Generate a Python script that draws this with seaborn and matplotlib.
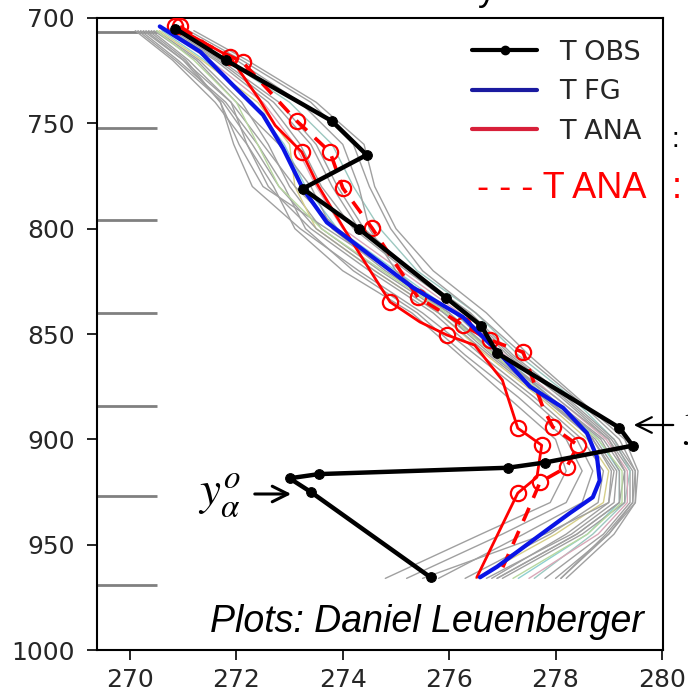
import matplotlib
matplotlib.use("Agg")
import matplotlib.pyplot as plt
import seaborn as sns
import pandas as pd
import numpy as np

# ---------------- data ----------------
obs_p = [705, 720, 749, 765, 781, 800, 833, 846, 859, 894.5, 903, 911, 913.5, 916.5, 918.5, 925, 965.5]
obs_T = [270.85, 271.8, 273.8, 274.45, 273.25, 274.3, 275.95, 276.6, 276.9, 279.2, 279.45, 277.8, 277.1, 273.55, 273.0, 273.4, 275.65]

fg_p = [704, 716, 732, 746, 762, 781, 797, 810, 828, 842, 858, 875, 885, 897, 908.5, 919.5, 927.5, 935, 946.5, 960.5, 965.5]
fg_T = [270.56, 271.32, 271.94, 272.5, 272.88, 273.25, 273.7, 274.38, 275.32, 276.26, 276.9, 277.52, 278.14, 278.59, 278.78, 278.83, 278.7, 278.27, 277.65, 276.9, 276.58]

ana_p = [704, 718.5, 739, 751, 763.6, 779.3, 800.7, 819.7, 834.8, 844.3, 850.5, 855.3, 871.9, 894.7, 902.8, 918, 925.5, 965.5]
ana_T = [270.85, 271.88, 272.44, 272.73, 273.23, 273.53, 274.04, 274.51, 274.89, 275.45, 275.96, 276.48, 277.0, 277.29, 277.74, 277.65, 277.29, 276.52]
ana_circles = [0, 1, 4, 8, 10, 13, 14, 16]

ana2_p = [704, 712.8, 721, 749, 763.6, 780.7, 799.7, 832.5, 845.8, 852.9, 858.6, 884.7, 894.2, 902.8, 913.2, 920.3, 935, 964]
ana2_T = [270.94, 271.45, 272.12, 273.14, 273.76, 274.0, 274.55, 275.41, 276.26, 276.77, 277.39, 277.76, 277.95, 278.42, 278.21, 277.71, 277.46, 276.95]
ana2_circles = [0, 2, 3, 4, 5, 6, 7, 8, 9, 10, 12, 13, 14, 15]

ens_p = [706, 720, 740, 760, 780, 800, 820, 840, 860, 880, 900, 915, 930, 945, 966]
ens_members = [
    [270.3, 271.0, 271.7, 271.95, 272.3, 273.2, 274.3, 275.5, 276.5, 277.5, 278.4, 278.7, 278.5, 277.4, 275.8],
    [270.4, 271.1, 271.9, 272.2, 272.6, 273.4, 274.5, 275.7, 276.6, 277.6, 278.5, 278.9, 278.8, 277.9, 276.3],
    [270.5, 271.3, 272.1, 272.6, 273.0, 273.6, 274.7, 275.9, 276.8, 277.8, 278.7, 279.1, 279.0, 278.2, 276.8],
    [270.6, 271.4, 272.3, 272.9, 273.3, 273.9, 275.0, 276.1, 277.0, 277.9, 278.8, 279.2, 279.2, 278.6, 277.3],
    [270.7, 271.6, 272.6, 273.2, 273.6, 274.2, 275.2, 276.3, 277.1, 278.1, 279.0, 279.4, 279.4, 278.9, 277.8],
    [271.2, 272.2, 273.5, 274.4, 274.6, 275.0, 275.7, 276.7, 277.5, 278.4, 279.3, 279.55, 279.5, 279.1, 278.2],
    [270.9, 271.8, 273.0, 273.8, 274.2, 274.7, 275.4, 276.5, 277.3, 278.3, 279.1, 279.4, 279.3, 278.7, 277.6],
    [270.2, 270.9, 271.8, 272.4, 272.9, 273.3, 274.2, 275.4, 276.3, 277.3, 278.2, 278.5, 278.2, 277.0, 275.2],
    [270.1, 270.8, 271.6, 272.2, 272.7, 273.1, 274.0, 275.3, 276.2, 277.1, 278.0, 278.2, 277.9, 276.6, 274.8],
    [270.45, 271.25, 272.0, 272.8, 273.4, 273.8, 274.8, 276.0, 276.9, 277.9, 278.9, 279.3, 279.3, 278.5, 277.0],
    [270.55, 271.35, 272.4, 273.0, 273.1, 273.5, 274.6, 275.8, 276.7, 277.7, 278.6, 279.0, 278.9, 278.0, 276.5],
    [270.8, 271.7, 272.8, 273.5, 273.9, 274.4, 275.3, 276.4, 277.2, 278.2, 279.1, 279.5, 279.5, 279.0, 278.0],
    [270.35, 271.05, 271.7, 272.05, 272.5, 273.7, 274.9, 276.0, 276.85, 277.8, 278.75, 279.15, 279.1, 278.3, 276.7],
    [270.65, 271.5, 272.5, 273.1, 273.5, 274.0, 275.1, 276.2, 277.05, 278.0, 278.95, 279.35, 279.35, 278.8, 277.5],
    [271.0, 272.0, 273.2, 274.0, 274.3, 274.5, 275.0, 275.9, 276.9, 278.0, 279.0, 279.3, 279.2, 278.4, 276.9],
    [270.25, 271.0, 271.9, 272.5, 273.1, 273.9, 274.9, 276.1, 276.95, 277.9, 278.85, 279.2, 279.2, 278.4, 276.9],
    [270.15, 270.85, 271.75, 272.3, 272.8, 273.5, 274.6, 275.8, 276.75, 277.75, 278.7, 279.05, 279.0, 277.8, 275.5],
    [270.75, 271.65, 272.7, 273.4, 273.8, 274.3, 275.25, 276.35, 277.15, 278.15, 279.05, 279.45, 279.45, 278.95, 278.1],
    [270.5, 271.2, 272.0, 272.4, 272.8, 273.6, 274.75, 275.95, 276.85, 277.85, 278.8, 279.25, 279.25, 278.6, 277.2],
    [271.1, 272.1, 273.4, 274.2, 274.5, 274.9, 275.5, 276.5, 277.4, 278.35, 279.2, 279.5, 279.45, 279.0, 278.1],
]
ens_colors = ['#a0a0a0'] * len(ens_members)
ens_colors[3] = '#8fd0d0'
ens_colors[10] = '#d6cf8a'
ens_colors[13] = '#d8a8b8'
ens_colors[6] = '#9cc8c0'
ens_colors[18] = '#b8d8a0'

level_p = [706.5, 752, 796, 840, 884, 927, 969]

x_ticks = [270, 272, 274, 276, 278, 280]
y_ticks = [700, 750, 800, 850, 900, 950, 1000]

# ---------------- figure ----------------
sns.set_style("white")
plt.rcParams['font.family'] = ['DejaVu Sans']
plt.rcParams['mathtext.fontset'] = 'stix'

W, H = 688, 696
fig = plt.figure(figsize=(W / 100, H / 100), dpi=100)
ax = fig.add_axes([97 / W, 46 / H, 566 / W, 632 / H])

# model level markers
ax.hlines(level_p, 269.38, 270.5, colors='#808080', lw=2, zorder=1)

for i, m in enumerate(ens_members):
    d = pd.DataFrame({'T': m, 'p': ens_p})
    sns.lineplot(data=d, x='T', y='p', sort=False, estimator=None, ax=ax,
                 color=ens_colors[i], lw=1.0, zorder=2)

d_ana = pd.DataFrame({'T': ana_T, 'p': ana_p})
sns.lineplot(data=d_ana, x='T', y='p', sort=False, estimator=None, ax=ax,
             color='red', lw=2.0, marker='o', markevery=ana_circles, markersize=11,
             markerfacecolor='none', markeredgecolor='red', markeredgewidth=1.6, zorder=3)

d_ana2 = pd.DataFrame({'T': ana2_T, 'p': ana2_p})
sns.lineplot(data=d_ana2, x='T', y='p', sort=False, estimator=None, ax=ax,
             color='red', lw=2.6, linestyle=(0, (4, 3)), marker='o', markevery=ana2_circles,
             markersize=11, markerfacecolor='none', markeredgecolor='red',
             markeredgewidth=1.6, zorder=3)

d_fg = pd.DataFrame({'T': fg_T, 'p': fg_p})
sns.lineplot(data=d_fg, x='T', y='p', sort=False, estimator=None, ax=ax,
             color='#0a14e6', lw=3.0, zorder=4)

d_obs = pd.DataFrame({'T': obs_T, 'p': obs_p})
sns.lineplot(data=d_obs, x='T', y='p', sort=False, estimator=None, ax=ax,
             color='black', lw=3.2, marker='o', markersize=7, markeredgecolor='black', zorder=5)

ax.set_xlim(269.38, 280.02)
ax.set_ylim(1000, 700)
ax.set_xticks(x_ticks)
ax.set_yticks(y_ticks)
ax.set_xticklabels([str(v) for v in x_ticks])
ax.set_yticklabels([str(v) for v in y_ticks])
ax.set_xlabel('')
ax.set_ylabel('')
ax.tick_params(axis='both', direction='out', length=7, width=1.2, colors='black',
               labelsize=18, labelcolor='#262626')
ax.tick_params(axis='y', pad=9)
ax.tick_params(axis='x', pad=6)
ax.xaxis.set_ticks_position('bottom')
ax.yaxis.set_ticks_position('left')
for s in ax.spines.values():
    s.set_visible(True)
    s.set_color('black')
    s.set_linewidth(1.5)

# legend
from matplotlib.lines import Line2D
handles = [
    Line2D([], [], color='black', lw=3, marker='o', markersize=6),
    Line2D([], [], color='#1a1aa0', lw=3),
    Line2D([], [], color='#d8203a', lw=3),
]
ax.legend(handles, ['T OBS', 'T FG', 'T ANA'], loc='upper right', frameon=False,
          fontsize=19.5, handlelength=2.4, labelcolor='#262626', borderaxespad=0.4)

# slide overlay texts
def fx(px):
    return px / W

def fy(py):
    return 1 - py / H

lib = ['Liberation Sans', 'DejaVu Sans']
fig.text(fx(477), fy(188), '- - - T ANA', color='red', fontsize=26, family=lib,
         ha='left', va='center')
fig.text(fx(672), fy(188), ':', color='red', fontsize=26, family=lib, ha='left', va='center')
fig.text(fx(672), fy(140), ':', color='black', fontsize=20, family=lib, ha='left', va='center')
fig.text(fx(478), 1.0, 'y', color='black', fontsize=26, family=lib, ha='left', va='baseline')

fig.text(fx(210), fy(622), 'Plots: Daniel Leuenberger', color='black', fontsize=27,
         family=lib, style='italic', ha='left', va='center')

fig.text(fx(198), fy(496), r'$y_{\alpha}^{o}$', color='black', fontsize=34,
         ha='left', va='center')
ax.annotate('', xy=(fx(294), fy(494)), xytext=(fx(252), fy(494)),
            xycoords='figure fraction', textcoords='figure fraction',
            arrowprops=dict(arrowstyle='->', lw=2.2, color='black', mutation_scale=28))
ax.annotate('', xy=(fx(631), fy(425)), xytext=(fx(676), fy(425)),
            xycoords='figure fraction', textcoords='figure fraction',
            arrowprops=dict(arrowstyle='->', lw=1.6, color='black', mutation_scale=28))
fig.text(fx(683), fy(430), r'$y_{\beta}^{o}$', color='black', fontsize=34,
         ha='left', va='center')

fig.savefig('out.png', dpi=100)
